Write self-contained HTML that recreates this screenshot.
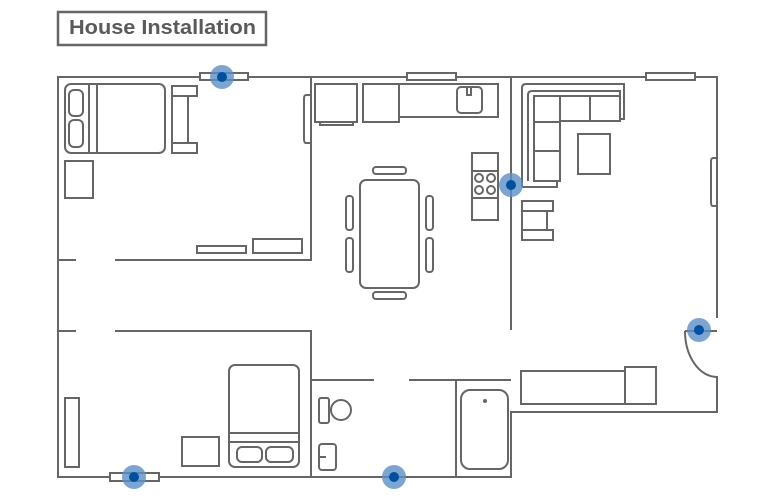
<!DOCTYPE html>
<html><head><style>body{margin:0;background:#fff}svg{display:block}</style></head><body>
<svg width="774" height="500" viewBox="0 0 774 500" xmlns="http://www.w3.org/2000/svg">
<g fill="none" stroke="#666" stroke-width="2">
<rect x="58" y="12" width="208" height="33" stroke="#666" stroke-width="2.5"/>
<path d="M58 260V77H717V318"/>
<path d="M717 376V412H511V477H58V331"/>
<path d="M58 331V260"/>
<path d="M58 260H76M115 260H311V77"/>
<path d="M58 331H76M115 331H311V477"/>
<path d="M511 77V330"/>
<path d="M311 380H374M409 380H511M456 380V477"/>
<path d="M685 331H717M685 331A32 46 0 0 0 717 377"/>
<rect x="200" y="73" width="48" height="7" fill="#fff"/>
<rect x="407" y="73" width="49" height="7" fill="#fff"/>
<rect x="646" y="73" width="49" height="7" fill="#fff"/>
<rect x="110" y="473" width="49" height="8" fill="#fff"/>
<path d="M310 95H306Q304 95 304 99V139Q304 143 306 143H310"/>
<path d="M717 158H713Q711 158 711 162V202Q711 206 713 206H717"/>
<rect x="65" y="84" width="100" height="69" rx="6"/>
<rect x="69" y="90" width="14" height="26" rx="5"/>
<rect x="69" y="120" width="14" height="27" rx="5"/>
<path d="M89 84V153M97 84V153"/>
<rect x="172" y="86" width="25" height="10"/>
<rect x="172" y="96" width="16" height="47"/>
<rect x="172" y="143" width="25" height="10"/>
<rect x="65" y="161" width="28" height="37"/>
<rect x="197" y="246" width="49" height="7"/>
<rect x="253" y="239" width="49" height="14"/>
<rect x="315" y="84" width="42" height="38"/>
<path d="M320 122V125H353V122"/>
<rect x="363" y="84" width="36" height="38"/>
<rect x="399" y="84" width="99" height="33"/>
<rect x="457" y="87" width="25" height="26" rx="4"/>
<rect x="467" y="87" width="4" height="8"/>
<rect x="472" y="153" width="26" height="67"/>
<path d="M472 171H498M472 198H498"/>
<circle cx="479" cy="178" r="4"/><circle cx="491" cy="178" r="4"/>
<circle cx="479" cy="190" r="4"/><circle cx="491" cy="190" r="4"/>
<rect x="360" y="180" width="59" height="108" rx="6"/>
<rect x="373" y="167" width="33" height="7" rx="3"/>
<rect x="373" y="292" width="33" height="7" rx="3"/>
<rect x="346" y="196" width="7" height="34" rx="3"/>
<rect x="346" y="238" width="7" height="34" rx="3"/>
<rect x="426" y="196" width="7" height="34" rx="3"/>
<rect x="426" y="238" width="7" height="34" rx="3"/>
<path d="M522 187V88Q522 84 526 84H624V119H619"/>
<path d="M522 187H557V181"/>
<path d="M528 181V95Q528 91 532 91H620V96"/>
<rect x="534" y="96" width="26" height="26"/>
<rect x="534" y="122" width="26" height="29"/>
<rect x="534" y="151" width="26" height="30"/>
<rect x="560" y="96" width="30" height="25"/>
<rect x="590" y="96" width="30" height="25"/>
<rect x="578" y="134" width="32" height="40"/>
<rect x="522" y="201" width="31" height="10"/>
<rect x="522" y="211" width="25" height="19"/>
<rect x="522" y="230" width="31" height="10"/>
<rect x="65" y="398" width="14" height="69"/>
<rect x="182" y="437" width="37" height="29"/>
<rect x="229" y="365" width="70" height="102" rx="6"/>
<path d="M229 433H299M229 442H299"/>
<rect x="237" y="447" width="25" height="15" rx="5"/>
<rect x="266" y="447" width="27" height="15" rx="5"/>
<rect x="319" y="398" width="10" height="25" rx="2"/>
<circle cx="341" cy="410" r="10"/>
<rect x="319" y="444" width="17" height="26" rx="3"/>
<path d="M320 457H326"/>
<rect x="461" y="390" width="47" height="79" rx="9"/>
<rect x="521" y="371" width="104" height="33"/>
<rect x="625" y="367" width="31" height="37"/>
</g>
<circle cx="485" cy="401" r="2" fill="#666"/>
<text x="69" y="34" font-family="Liberation Sans, sans-serif" font-size="20" font-weight="bold" fill="#5a5a5a" textLength="187" lengthAdjust="spacingAndGlyphs">House Installation</text>
<g>
<circle cx="222" cy="77" r="12" fill="#5b8fc7" opacity=".8"/><circle cx="222" cy="77" r="5" fill="#0050a0"/>
<circle cx="511" cy="185" r="12" fill="#5b8fc7" opacity=".8"/><circle cx="511" cy="185" r="5" fill="#0050a0"/>
<circle cx="699" cy="330" r="12" fill="#5b8fc7" opacity=".8"/><circle cx="699" cy="330" r="5" fill="#0050a0"/>
<circle cx="134" cy="477" r="12" fill="#5b8fc7" opacity=".8"/><circle cx="134" cy="477" r="5" fill="#0050a0"/>
<circle cx="394" cy="477" r="12" fill="#5b8fc7" opacity=".8"/><circle cx="394" cy="477" r="5" fill="#0050a0"/>
</g>
</svg>
</body></html>
